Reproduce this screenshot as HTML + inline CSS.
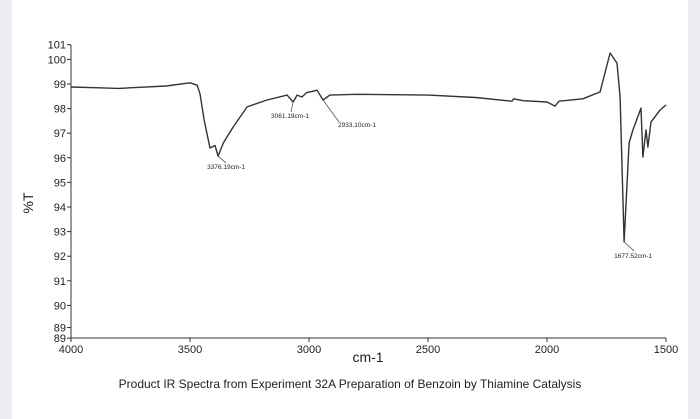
<!DOCTYPE html>
<html><head><meta charset="utf-8"><style>
body{margin:0;background:#fff;}
#wrap{position:relative;width:700px;height:419px;background:#fff;overflow:hidden;font-family:"Liberation Sans",sans-serif;}
.side{position:absolute;top:0;height:419px;background:#eeeef2;}
</style></head><body>
<div id="wrap">
<div class="side" style="left:0;width:12px"></div>
<div class="side" style="left:688px;width:12px"></div>
<svg id="chart" width="700" height="419" style="position:absolute;left:0;top:0"></svg>
</div>
<script>
const wavenumbers=[4000,3900,3800,3700,3600,3500,3470,3458,3440,3416,3395,3382,3360,3319,3260,3176,3092,3067,3050,3030,3010,2987,2966,2941,2912,2800,2500,2300,2147,2140,2100,2000,1966,1950,1849,1777,1735,1706,1693,1676,1655,1639,1605,1597,1584,1576,1563,1525,1500];
const transmittance=[98.88,98.85,98.82,98.87,98.92,99.05,98.95,98.6,97.5,96.4,96.5,96.07,96.6,97.25,98.07,98.35,98.55,98.27,98.55,98.47,98.65,98.7,98.75,98.35,98.55,98.58,98.55,98.45,98.3,98.4,98.32,98.27,98.1,98.3,98.4,98.68,100.26,99.85,98.47,92.58,96.6,97.13,98.02,96.03,97.13,96.44,97.45,97.94,98.15];
const xTicks=[4000,3500,3000,2500,2000,1500];
const yTickValues=[100.6,100,99,98,97,96,95,94,93,92,91,90,89.1,88.67];
const yTickLabels=["101","100","99","98","97","96","95","94","93","92","91","90","89","89"];
const peakWavenumbers=[3382,3067,2941,1676];
const peakValues=[96.07,98.27,98.35,92.58];
const peakLabels=["3376.19cm-1","3061.19cm-1","2933.10cm-1","1677.52cm-1"];

const NS="http://www.w3.org/2000/svg";
const svg=document.getElementById('chart');
const X=w=>71+(4000-w)*0.238;
const Y=v=>84+(99-v)*24.6;
function mk(t,a,p){const e=document.createElementNS(NS,t);for(const k in a)e.setAttribute(k,a[k]);(p||svg).appendChild(e);return e;}

let e=mk('line',{x1:71,y1:45,x2:71,y2:338,stroke:'#333','stroke-width':1});


e=mk('line',{x1:71,y1:338,x2:666,y2:338,stroke:'#333','stroke-width':1});



yTickValues.forEach((v,i)=>{
  const y=Y(v);
  let t=mk('line',{x1:67,y1:y,x2:71,y2:y,stroke:'#333'});
  
  
  let l=mk('text',{x:66,y:y+4,'text-anchor':'end','font-size':11,fill:'#222'});
  l.textContent=yTickLabels[i];
  
  
});
xTicks.forEach(w=>{
  const x=X(w);
  let t=mk('line',{x1:x,y1:338,x2:x,y2:342,stroke:'#333'});
  
  
  let l=mk('text',{x:x,y:353,'text-anchor':'middle','font-size':11,fill:'#222'});
  l.textContent=w;
  
  
});

let d=wavenumbers.map((w,i)=>(i?'L':'M')+X(w).toFixed(1)+' '+Y(transmittance[i]).toFixed(1)).join(' ');
e=mk('path',{d:d,fill:'none',stroke:'#333','stroke-width':1.4,'stroke-linejoin':'round'});



const offs=[[8,7,-11,13],[-2,10,-22,16],[16,22,15,27],[10,9,-10,16]];
peakWavenumbers.forEach((w,i)=>{
  const x=X(w),y=Y(peakValues[i]),o=offs[i];
  let ln=mk('line',{x1:x,y1:y,x2:x+o[0],y2:y+o[1],stroke:'#555','stroke-width':0.8});
  
  
  let t=mk('text',{x:x+o[2],y:y+o[3],'font-size':6.5,fill:'#222'});
  t.textContent=peakLabels[i];
  
  
});

e=mk('text',{x:0,y:0,transform:'translate(33,203) rotate(-90)','text-anchor':'middle','font-size':14,fill:'#222'});
e.textContent='%T';


e=mk('text',{x:368,y:362,'text-anchor':'middle','font-size':14,fill:'#222'});
e.textContent='cm-1';


e=mk('text',{x:350,y:388,'text-anchor':'middle','font-size':12,fill:'#222'});
e.textContent='Product IR Spectra from Experiment 32A Preparation of Benzoin by Thiamine Catalysis';


</script>
</body></html>
